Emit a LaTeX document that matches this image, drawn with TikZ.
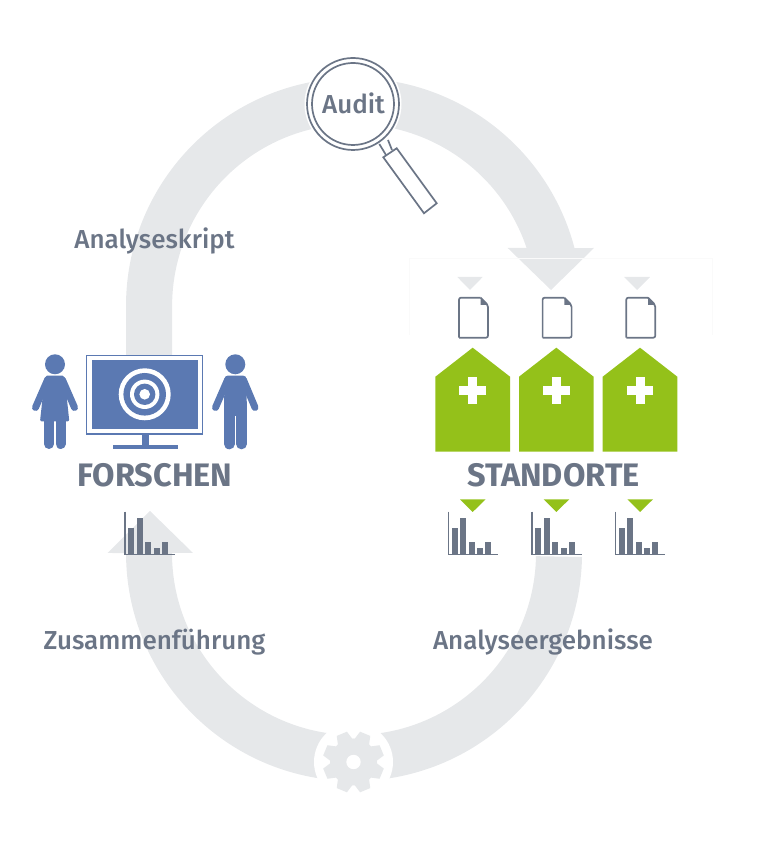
\documentclass[tikz,border=0pt]{standalone}
\usepackage{fontspec}
\setmainfont{Fira Sans}
\newfontfamily\labelfont{Fira Sans Medium}
\definecolor{band}{HTML}{E6E8EA}
\definecolor{slate}{HTML}{6B7586}
\definecolor{persblue}{HTML}{5B79B2}
\definecolor{hosp}{HTML}{94C11A}
\tikzset{
  looplabel/.style={text=slate, font=\fontsize{26}{26}\labelfont},
  grouplabel/.style={text=slate, font=\fontsize{32.5}{32.5}\selectfont\bfseries},
  limb/.style={persblue, line cap=round},
  outline/.style={slate, line width=1.7pt}
}
\begin{document}
\begin{tikzpicture}[x=1pt, y=1pt]
     \useasboundingbox (0,0) rectangle (768,861);
     % loop, top half with its head
     \fill [band](126,501) -- (126,555) arc[start angle=180, end angle=14.7, radius=228]
        -- (594,613) -- (551,571) -- (507.7,613) -- (526.6,613)
        arc[start angle=18.6, end angle=180, radius=182] -- (172,501) -- cycle;
     % loop, bottom half with its head
     \fill [band](582,304) arc[start angle=-1, end angle=-180, radius=228]
        -- (107.5,308) -- (150,350) -- (193,308) -- (172,308)
        arc[start angle=-180, end angle=-1, radius=182] -- cycle;
     % faint frame round the files
     \draw [black!2, line width=0.6pt](409,526) -- (409,603) -- (712,603) -- (712,526);
     \fill [band](457.3,584) -- (482.7,584) -- (470,571) -- cycle;
     \fill [band](624,584) -- (650,584) -- (637,571) -- cycle;
     % magnifier
     \fill [white](353,757) circle (48.5);
     \draw [outline](353,757) circle (46);
     \draw [outline](353,757) circle (41);
     \draw [outline](379.3,717) -- (386,706);
     \draw [outline](388,721) -- (392,711);
     \draw [outline, fill=white](383.3,703.7) -- (396.7,712.7) -- (436.7,657.7) -- (424,647.7) -- cycle;
     \node (audit) [looplabel] at (353.5,757.5) {Audit};
     % gear
     \fill [white](353.5,99) circle (39.5);
     \fill [band](353.5,99) circle (23.5);
     \foreach \a in {0,45,...,315}
        \fill [band, rotate around={\a+22.5:(353.5,99)}](345.5,120) -- (348,129.5) -- (359,129.5) -- (361.5,120) -- cycle;
     \fill [white](353.5,99) circle (7.2);
     % screen
     \draw [persblue, line width=1.2pt, fill=white](86.7,505.3) rectangle (202.7,427);
     \fill [persblue](91.7,501) rectangle (198.3,431.7);
     \fill [persblue](141.7,427) rectangle (149,414);
     \fill [persblue](112.7,416.3) rectangle (177.7,411.7);
     \fill [white](144.7,466.7) circle (26);
     \fill [persblue](144.7,466.7) circle (21.3);
     \fill [white](144.7,466.7) circle (14.7);
     \fill [persblue](144.7,466.7) circle (10.7);
     \fill [white](144.7,466.7) circle (5.3);
     % woman
     \fill [persblue](55,496.7) circle (10);
     \fill [persblue, rounded corners=2pt](45,485.3) -- (64.5,485.3) -- (69.3,439.5) -- (40,439.5) -- cycle;
     \draw [limb, line width=7pt](47.5,481) -- (35.5,453.5);
     \draw [limb, line width=7pt](62.5,481) -- (74.5,453.5);
     \draw [limb, line width=10pt](49,440) -- (49,417);
     \draw [limb, line width=10pt](60.5,440) -- (60.5,417);
     % man
     \fill [persblue](235.3,496.7) circle (10);
     \fill [persblue, rounded corners=3pt](224.5,485.3) -- (246.3,485.3) -- (247,445) -- (224,445) -- cycle;
     \draw [limb, line width=7pt](227.5,481) -- (215.5,453.5);
     \draw [limb, line width=7pt](243.5,481) -- (255,453.5);
     \draw [limb, line width=10.7pt](229.3,450) -- (229.3,417);
     \draw [limb, line width=10.7pt](241.5,450) -- (241.5,417);
     % sites
     \foreach \x in {472.7,556.3,640} {
        \begin{scope}[shift={(\x,0)}]
           \fill [hosp](-37.3,409.3) -- (-37.3,484.3) -- (0,513.3) -- (37.3,484.3) -- (37.3,409.3) -- cycle;
           \fill [white](-4.5,483.6) rectangle (4.5,456.9);
           \fill [white](-13.3,474.8) rectangle (13.3,465.8);
           \fill [hosp](-12.7,361.7) -- (13,361.7) -- (0,349) -- cycle;
           % file
           \draw [outline, fill=white, rounded corners=2pt](-13.7,523.3) -- (-13.7,563.3) -- (8,563.3);
           \draw [outline, rounded corners=2pt](8,563.3) -- (15.3,556) -- (15.3,523.3) -- (-13.7,523.3);
           \fill [slate](8,563.3) -- (15.3,556) -- (8,556) -- cycle;
        \end{scope}
     }
     % charts
     \foreach \x in {125,448.3,531.9,615.4} {
        \begin{scope}[shift={(\x,0)}]
           \fill [slate](3.3,306.7) rectangle (9.3,332.7);
           \fill [slate](12,306.7) rectangle (18,343.3);
           \fill [slate](20.3,306.7) rectangle (26.3,319.3);
           \fill [slate](28.6,306.7) rectangle (34.6,312.7);
           \fill [slate](37,306.7) rectangle (43,319.3);
           \draw [slate, line width=1.4pt](0,349.3) -- (0,306.7) -- (50,306.7);
        \end{scope}
     }
     \node (forschen) [grouplabel] at (155,386) {FORSCHEN};
     \node (standorte) [grouplabel] at (553.5,386) {STANDORTE};
     \node (skript) [looplabel] at (154.5,620) {Analyseskript};
     \node (zusammen) [looplabel] at (154.5,219) {Zusammenführung};
     \node (ergebnisse) [looplabel] at (543,219) {Analyseergebnisse};
\end{tikzpicture}
\end{document}
